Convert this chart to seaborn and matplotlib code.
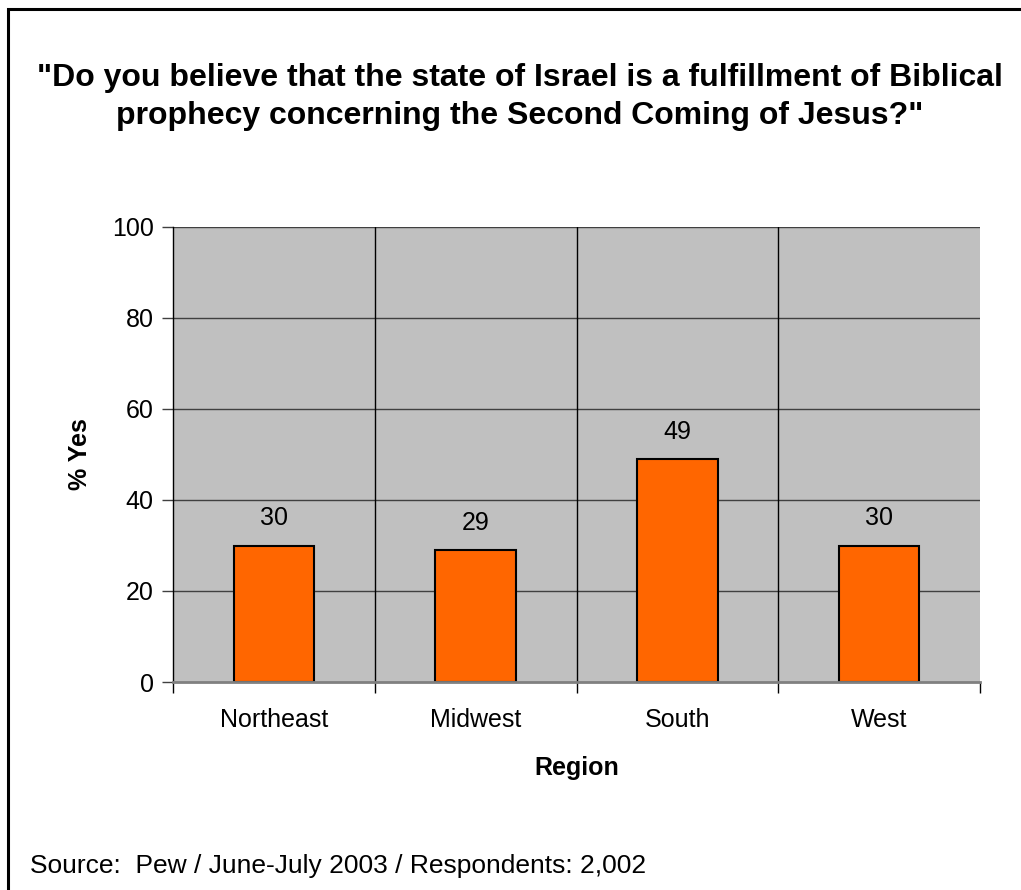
import pandas as pd
import matplotlib
matplotlib.use("Agg")
import matplotlib.pyplot as plt
import seaborn as sns
from matplotlib.patches import Rectangle

# Data
regions = ["Northeast", "Midwest", "South", "West"]
pct_yes = [30, 29, 49, 30]
y_ticks = [0, 20, 40, 60, 80, 100]

title = ('"Do you believe that the state of Israel is a fulfillment of Biblical\n'
         'prophecy concerning the Second Coming of Jesus?"')
source = "Source:  Pew / June-July 2003 / Respondents: 2,002"

sns.set_style("white")
plt.rcParams['font.family'] = ['Liberation Sans', 'DejaVu Sans']
plt.rcParams['text.color'] = 'black'
plt.rcParams['axes.labelcolor'] = 'black'
plt.rcParams['xtick.labelcolor'] = 'black'
plt.rcParams['ytick.labelcolor'] = 'black'

df = pd.DataFrame({"Region": regions, "Yes": pct_yes})

W, H = 1021, 890
fig = plt.figure(figsize=(W / 100, H / 100), dpi=100)
ax = fig.add_axes([173 / W, 1 - 682 / H, (980 - 173) / W, (682 - 227) / H])
ax.set_facecolor("#C0C0C0")

# gridlines
for y in y_ticks[1:]:
    ax.axhline(y, color="#404040", lw=1, zorder=1)
for x in [0.5, 1.5, 2.5]:
    ax.axvline(x, color="black", lw=1, zorder=1)

sns.barplot(data=df, x="Region", y="Yes", color="#FF6600", width=0.4,
            edgecolor="black", linewidth=1.5, saturation=1, ax=ax, zorder=2)

for i, v in enumerate(pct_yes):
    ax.text(i, v + 6, str(v), ha="center", va="center", fontsize=18)

ax.set_xlim(-0.5, 3.5)
ax.set_ylim(0, 100)
ax.set_yticks(y_ticks)
ax.tick_params(axis="y", labelsize=18, length=8, width=1, color="#404040",
               left=True, pad=6)
ax.set_xticks(range(len(regions)))
ax.set_xticklabels(regions)
ax.tick_params(axis="x", which="major", length=0, labelsize=18, pad=19)
ax.set_xticks([-0.5, 0.5, 1.5, 2.5, 3.5], minor=True)
ax.tick_params(axis="x", which="minor", length=8, width=1, color="black",
               bottom=True)

for s in ["top", "right"]:
    ax.spines[s].set_visible(False)
ax.spines["left"].set_color("black")
ax.spines["left"].set_linewidth(1)
ax.spines["bottom"].set_color("#808080")
ax.spines["bottom"].set_linewidth(2)

ax.set_xlabel("Region", fontsize=18, fontweight="bold", labelpad=17)
ax.set_ylabel("% Yes", fontsize=18, fontweight="bold", labelpad=14)

fig.text(520 / W, 1 - 97 / H, title, ha="center", va="center",
         fontsize=23, fontweight="bold", linespacing=1.32)
fig.text(30 / W, 1 - 866 / H, source, ha="left", va="center", fontsize=19)

# outer frame (left and top edges visible)
fig.patches.append(Rectangle((8 / W, -0.05), 1.2, 1 - 9 / H + 0.05,
                             transform=fig.transFigure, fill=False,
                             edgecolor="black", lw=2.2))

fig.savefig("out.png", dpi=100)
